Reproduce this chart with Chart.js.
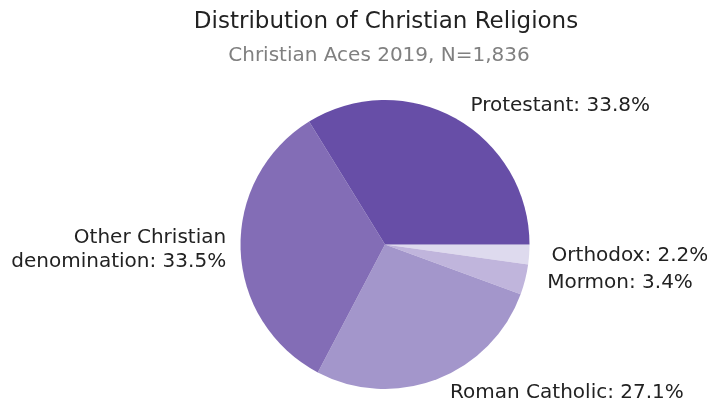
<!DOCTYPE html>
<html>
<head>
<meta charset="utf-8">
<script src="https://cdn.jsdelivr.net/npm/chart.js@4/dist/chart.umd.min.js"></script>
<style>
  html, body { margin: 0; padding: 0; background: #ffffff; }
  #wrap { width: 707px; height: 402px; position: relative; }
</style>
</head>
<body>
<div id="wrap"><canvas id="chart" width="707" height="402"></canvas></div>
<script>
// Slices listed clockwise from 3 o'clock (Chart.js draws clockwise)
const categories = ['Orthodox', 'Mormon', 'Roman Catholic', 'Other Christian\ndenomination', 'Protestant'];
const shares = [2.2, 3.4, 27.1, 33.5, 33.8];
const sliceColors = ['#dedaee', '#c0b5dc', '#a396cb', '#836db6', '#674ea7'];

const titleText = 'Distribution of Christian Religions';
const subtitleText = 'Christian Aces 2019, N=1,836';
const FONT = '"DejaVu Sans", sans-serif';

// Title and subtitle above the pie
const headerPlugin = {
  id: 'header',
  afterDraw(chart) {
    const ctx = chart.ctx;
    ctx.save();
    ctx.textAlign = 'center';
    ctx.textBaseline = 'middle';
    ctx.fillStyle = '#222222';
    ctx.font = '23px ' + FONT;
    ctx.fillText(titleText, 386, 22);
    ctx.fillStyle = '#808080';
    ctx.font = '20px ' + FONT;
    ctx.fillText(subtitleText, 379, 56);
    ctx.restore();
  }
};

// Category labels placed outside each slice, at 1.1 x radius along its mid-angle
const sliceLabelPlugin = {
  id: 'sliceLabels',
  afterDatasetsDraw(chart) {
    const ctx = chart.ctx;
    const meta = chart.getDatasetMeta(0);
    ctx.save();
    ctx.font = '20px ' + FONT;
    ctx.fillStyle = '#222222';
    ctx.textBaseline = 'middle';
    meta.data.forEach((arc, i) => {
      const p = arc.getProps(['x', 'y', 'startAngle', 'endAngle', 'outerRadius'], true);
      const mid = (p.startAngle + p.endAngle) / 2;
      const r = p.outerRadius * 1.1;
      const cx = p.x + Math.cos(mid) * r;
      const cy = p.y + Math.sin(mid) * r;
      const right = Math.cos(mid) >= 0;
      ctx.textAlign = right ? 'left' : 'right';
      const lines = (categories[i] + ': ' + shares[i].toFixed(1) + '%').split('\n');
      const lh = 24;
      const y0 = cy - (lines.length - 1) * lh / 2;
      lines.forEach((ln, k) => {
        ctx.fillText(ln, right ? cx + 8 : cx, y0 + k * lh);
      });
    });
    ctx.restore();
  }
};

new Chart(document.getElementById('chart'), {
  type: 'pie',
  data: {
    labels: categories,
    datasets: [{
      data: shares,
      backgroundColor: sliceColors,
      borderWidth: 0
    }]
  },
  options: {
    responsive: false,
    animation: false,
    rotation: 90,
    layout: { padding: { top: 100, bottom: 13, left: 240.5, right: 177.5 } },
    plugins: {
      legend: { display: false },
      tooltip: { enabled: false },
      title: { display: false }
    }
  },
  plugins: [headerPlugin, sliceLabelPlugin]
});
</script>
</body>
</html>
